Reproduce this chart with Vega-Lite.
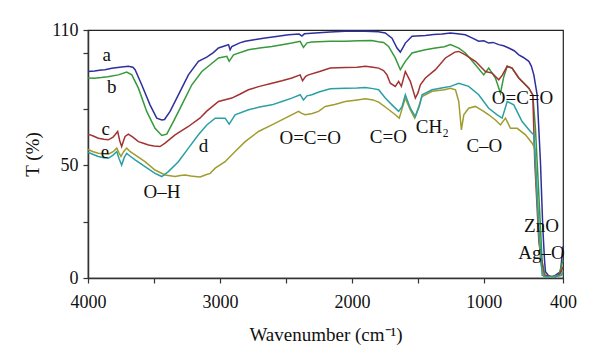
{
  "$schema": "https://vega.github.io/schema/vega-lite/v6.json",
  "width": 475,
  "height": 248,
  "autosize": "none",
  "padding": {"left": 88, "top": 30, "right": 37, "bottom": 84},
  "background": "white",
  "config": {
    "view": {"stroke": "#222", "strokeWidth": 1.2},
    "font": "Liberation Serif",
    "axis": {"grid": false, "domainColor": "#333", "tickColor": "#333", "domainWidth": 1.5, "tickWidth": 1.2, "tickSize": 5,
      "labelFont": "Liberation Serif", "labelFontSize": 18, "labelColor": "#111", "titleFont": "Liberation Serif", "titleFontSize": 19, "titleFontWeight": "normal", "titleColor": "#111"}
  },
  "datasets": {
    "spectra": [
      {"s":"a","w":4000,"t":91.6},{"s":"a","w":3950,"t":91.8},{"s":"a","w":3900,"t":92.3},{"s":"a","w":3871,"t":92.4},{"s":"a","w":3820,"t":93.0},{"s":"a","w":3760,"t":93.5},{"s":"a","w":3694,"t":93.9},{"s":"a","w":3660,"t":93.5},{"s":"a","w":3643,"t":92.4},{"s":"a","w":3593,"t":85.7},{"s":"a","w":3530,"t":76.8},{"s":"a","w":3479,"t":70.9},{"s":"a","w":3440,"t":70.1},{"s":"a","w":3420,"t":70.3},{"s":"a","w":3378,"t":73.9},{"s":"a","w":3315,"t":81.2},{"s":"a","w":3239,"t":90.1},{"s":"a","w":3163,"t":96.1},{"s":"a","w":3100,"t":98.0},{"s":"a","w":3050,"t":100.0},{"s":"a","w":3011,"t":102.0},{"s":"a","w":2960,"t":103.0},{"s":"a","w":2935,"t":103.5},{"s":"a","w":2923,"t":101.2},{"s":"a","w":2910,"t":102.7},{"s":"a","w":2850,"t":104.3},{"s":"a","w":2809,"t":105.0},{"s":"a","w":2730,"t":105.8},{"s":"a","w":2657,"t":106.4},{"s":"a","w":2560,"t":107.2},{"s":"a","w":2480,"t":107.9},{"s":"a","w":2400,"t":108.2},{"s":"a","w":2379,"t":107.3},{"s":"a","w":2360,"t":108.3},{"s":"a","w":2278,"t":108.7},{"s":"a","w":2164,"t":109.1},{"s":"a","w":2050,"t":109.4},{"s":"a","w":1900,"t":109.5},{"s":"a","w":1800,"t":109.2},{"s":"a","w":1747,"t":108.7},{"s":"a","w":1696,"t":106.4},{"s":"a","w":1658,"t":102.0},{"s":"a","w":1633,"t":100.2},{"s":"a","w":1610,"t":102.5},{"s":"a","w":1595,"t":104.2},{"s":"a","w":1544,"t":107.2},{"s":"a","w":1443,"t":107.6},{"s":"a","w":1380,"t":108.0},{"s":"a","w":1317,"t":108.2},{"s":"a","w":1253,"t":108.7},{"s":"a","w":1200,"t":108.3},{"s":"a","w":1140,"t":107.9},{"s":"a","w":1090,"t":106.5},{"s":"a","w":1039,"t":105.0},{"s":"a","w":1000,"t":105.2},{"s":"a","w":963,"t":104.2},{"s":"a","w":930,"t":104.5},{"s":"a","w":887,"t":103.5},{"s":"a","w":850,"t":103.0},{"s":"a","w":811,"t":102.0},{"s":"a","w":770,"t":100.8},{"s":"a","w":735,"t":99.0},{"s":"a","w":700,"t":97.8},{"s":"a","w":659,"t":96.1},{"s":"a","w":640,"t":94.0},{"s":"a","w":621,"t":90.1},{"s":"a","w":596,"t":81.2},{"s":"a","w":571,"t":51.6},{"s":"a","w":553,"t":22.0},{"s":"a","w":540,"t":8.0},{"s":"a","w":533,"t":2.8},{"s":"a","w":510,"t":1.0},{"s":"a","w":482,"t":0.5},{"s":"a","w":450,"t":1.5},{"s":"a","w":419,"t":2.8},{"s":"a","w":400,"t":14.0},

      {"s":"b","w":4000,"t":88.7},{"s":"b","w":3950,"t":88.6},{"s":"b","w":3900,"t":88.9},{"s":"b","w":3850,"t":89.3},{"s":"b","w":3770,"t":90.1},{"s":"b","w":3707,"t":91.3},{"s":"b","w":3668,"t":90.1},{"s":"b","w":3618,"t":84.2},{"s":"b","w":3555,"t":73.9},{"s":"b","w":3492,"t":66.4},{"s":"b","w":3441,"t":63.2},{"s":"b","w":3403,"t":63.8},{"s":"b","w":3353,"t":69.4},{"s":"b","w":3289,"t":76.8},{"s":"b","w":3213,"t":85.7},{"s":"b","w":3137,"t":91.6},{"s":"b","w":3074,"t":94.6},{"s":"b","w":3011,"t":97.6},{"s":"b","w":2948,"t":98.3},{"s":"b","w":2930,"t":96.1},{"s":"b","w":2897,"t":99.0},{"s":"b","w":2784,"t":101.2},{"s":"b","w":2700,"t":102.0},{"s":"b","w":2606,"t":102.7},{"s":"b","w":2530,"t":103.5},{"s":"b","w":2455,"t":104.2},{"s":"b","w":2392,"t":105.0},{"s":"b","w":2367,"t":102.3},{"s":"b","w":2340,"t":104.3},{"s":"b","w":2303,"t":104.7},{"s":"b","w":2164,"t":105.0},{"s":"b","w":2050,"t":105.0},{"s":"b","w":1950,"t":105.2},{"s":"b","w":1850,"t":105.3},{"s":"b","w":1800,"t":104.8},{"s":"b","w":1760,"t":104.5},{"s":"b","w":1722,"t":102.7},{"s":"b","w":1671,"t":97.6},{"s":"b","w":1633,"t":92.4},{"s":"b","w":1595,"t":96.1},{"s":"b","w":1544,"t":99.8},{"s":"b","w":1500,"t":100.5},{"s":"b","w":1443,"t":101.2},{"s":"b","w":1367,"t":102.0},{"s":"b","w":1300,"t":102.6},{"s":"b","w":1253,"t":103.5},{"s":"b","w":1190,"t":102.0},{"s":"b","w":1140,"t":99.8},{"s":"b","w":1064,"t":94.6},{"s":"b","w":1001,"t":90.1},{"s":"b","w":963,"t":93.1},{"s":"b","w":912,"t":88.7},{"s":"b","w":874,"t":82.0},{"s":"b","w":850,"t":89.0},{"s":"b","w":823,"t":93.9},{"s":"b","w":786,"t":93.1},{"s":"b","w":735,"t":88.7},{"s":"b","w":659,"t":84.2},{"s":"b","w":629,"t":81.2},{"s":"b","w":609,"t":66.4},{"s":"b","w":583,"t":36.8},{"s":"b","w":558,"t":7.2},{"s":"b","w":533,"t":0.5},{"s":"b","w":480,"t":0.8},{"s":"b","w":432,"t":1.2},{"s":"b","w":400,"t":8.0},

      {"s":"c","w":4000,"t":63.8},{"s":"c","w":3960,"t":63.0},{"s":"c","w":3922,"t":62.0},{"s":"c","w":3880,"t":61.5},{"s":"c","w":3846,"t":61.3},{"s":"c","w":3810,"t":62.5},{"s":"c","w":3795,"t":63.5},{"s":"c","w":3775,"t":65.0},{"s":"c","w":3760,"t":61.0},{"s":"c","w":3745,"t":58.3},{"s":"c","w":3730,"t":61.0},{"s":"c","w":3719,"t":62.8},{"s":"c","w":3694,"t":63.8},{"s":"c","w":3660,"t":62.5},{"s":"c","w":3618,"t":60.5},{"s":"c","w":3580,"t":59.8},{"s":"c","w":3542,"t":59.0},{"s":"c","w":3500,"t":58.6},{"s":"c","w":3454,"t":58.3},{"s":"c","w":3416,"t":59.8},{"s":"c","w":3340,"t":63.5},{"s":"c","w":3239,"t":67.2},{"s":"c","w":3150,"t":71.0},{"s":"c","w":3100,"t":74.0},{"s":"c","w":3011,"t":78.3},{"s":"c","w":2910,"t":79.8},{"s":"c","w":2850,"t":81.5},{"s":"c","w":2784,"t":83.5},{"s":"c","w":2700,"t":85.0},{"s":"c","w":2606,"t":86.4},{"s":"c","w":2530,"t":87.5},{"s":"c","w":2455,"t":88.7},{"s":"c","w":2392,"t":90.1},{"s":"c","w":2374,"t":87.5},{"s":"c","w":2350,"t":89.5},{"s":"c","w":2329,"t":90.1},{"s":"c","w":2250,"t":91.5},{"s":"c","w":2164,"t":93.1},{"s":"c","w":2050,"t":93.4},{"s":"c","w":1960,"t":93.5},{"s":"c","w":1898,"t":93.9},{"s":"c","w":1840,"t":93.5},{"s":"c","w":1797,"t":93.1},{"s":"c","w":1760,"t":92.0},{"s":"c","w":1734,"t":90.1},{"s":"c","w":1709,"t":86.4},{"s":"c","w":1671,"t":85.0},{"s":"c","w":1646,"t":87.2},{"s":"c","w":1625,"t":85.0},{"s":"c","w":1595,"t":91.6},{"s":"c","w":1557,"t":87.2},{"s":"c","w":1519,"t":79.8},{"s":"c","w":1500,"t":82.0},{"s":"c","w":1481,"t":85.7},{"s":"c","w":1443,"t":88.7},{"s":"c","w":1367,"t":92.4},{"s":"c","w":1291,"t":97.6},{"s":"c","w":1253,"t":99.0},{"s":"c","w":1220,"t":100.2},{"s":"c","w":1190,"t":100.5},{"s":"c","w":1140,"t":99.0},{"s":"c","w":1064,"t":96.1},{"s":"c","w":988,"t":91.6},{"s":"c","w":937,"t":90.9},{"s":"c","w":887,"t":87.9},{"s":"c","w":860,"t":90.0},{"s":"c","w":823,"t":93.9},{"s":"c","w":786,"t":93.1},{"s":"c","w":735,"t":88.7},{"s":"c","w":659,"t":84.2},{"s":"c","w":629,"t":81.2},{"s":"c","w":614,"t":51.6},{"s":"c","w":583,"t":16.0},{"s":"c","w":545,"t":1.2},{"s":"c","w":500,"t":0.8},{"s":"c","w":457,"t":0.5},{"s":"c","w":420,"t":2.0},{"s":"c","w":400,"t":5.0},

      {"s":"d","w":4000,"t":57.0},{"s":"d","w":3960,"t":56.0},{"s":"d","w":3922,"t":55.3},{"s":"d","w":3846,"t":54.9},{"s":"d","w":3810,"t":56.0},{"s":"d","w":3782,"t":57.6},{"s":"d","w":3765,"t":55.5},{"s":"d","w":3750,"t":53.9},{"s":"d","w":3730,"t":56.0},{"s":"d","w":3707,"t":57.6},{"s":"d","w":3680,"t":56.0},{"s":"d","w":3643,"t":54.6},{"s":"d","w":3568,"t":51.6},{"s":"d","w":3492,"t":47.9},{"s":"d","w":3416,"t":45.7},{"s":"d","w":3340,"t":45.0},{"s":"d","w":3300,"t":45.5},{"s":"d","w":3264,"t":45.7},{"s":"d","w":3220,"t":45.2},{"s":"d","w":3188,"t":45.0},{"s":"d","w":3150,"t":44.8},{"s":"d","w":3112,"t":45.7},{"s":"d","w":3074,"t":46.4},{"s":"d","w":3036,"t":48.7},{"s":"d","w":2961,"t":51.6},{"s":"d","w":2885,"t":56.1},{"s":"d","w":2809,"t":60.5},{"s":"d","w":2708,"t":65.0},{"s":"d","w":2606,"t":67.9},{"s":"d","w":2505,"t":70.9},{"s":"d","w":2404,"t":73.9},{"s":"d","w":2380,"t":73.0},{"s":"d","w":2354,"t":72.4},{"s":"d","w":2300,"t":73.0},{"s":"d","w":2253,"t":73.9},{"s":"d","w":2202,"t":76.1},{"s":"d","w":2130,"t":77.0},{"s":"d","w":2050,"t":78.3},{"s":"d","w":1960,"t":79.0},{"s":"d","w":1898,"t":79.5},{"s":"d","w":1840,"t":79.0},{"s":"d","w":1797,"t":78.0},{"s":"d","w":1734,"t":75.3},{"s":"d","w":1671,"t":72.4},{"s":"d","w":1641,"t":70.9},{"s":"d","w":1620,"t":75.0},{"s":"d","w":1595,"t":79.8},{"s":"d","w":1557,"t":74.6},{"s":"d","w":1524,"t":70.9},{"s":"d","w":1500,"t":75.0},{"s":"d","w":1468,"t":80.5},{"s":"d","w":1392,"t":82.8},{"s":"d","w":1300,"t":83.5},{"s":"d","w":1253,"t":84.2},{"s":"d","w":1215,"t":83.5},{"s":"d","w":1190,"t":78.3},{"s":"d","w":1170,"t":65.7},{"s":"d","w":1152,"t":72.4},{"s":"d","w":1115,"t":75.3},{"s":"d","w":1064,"t":76.1},{"s":"d","w":1001,"t":73.9},{"s":"d","w":963,"t":72.4},{"s":"d","w":912,"t":70.1},{"s":"d","w":874,"t":67.9},{"s":"d","w":836,"t":70.9},{"s":"d","w":798,"t":66.4},{"s":"d","w":747,"t":66.4},{"s":"d","w":684,"t":63.5},{"s":"d","w":634,"t":59.8},{"s":"d","w":614,"t":57.6},{"s":"d","w":596,"t":36.8},{"s":"d","w":571,"t":7.2},{"s":"d","w":546,"t":0.5},{"s":"d","w":480,"t":0.3},{"s":"d","w":413,"t":1.2},{"s":"d","w":400,"t":2.0},

      {"s":"e","w":4000,"t":55.8},{"s":"e","w":3960,"t":54.8},{"s":"e","w":3922,"t":53.9},{"s":"e","w":3880,"t":53.3},{"s":"e","w":3846,"t":53.1},{"s":"e","w":3810,"t":54.5},{"s":"e","w":3782,"t":56.1},{"s":"e","w":3765,"t":53.0},{"s":"e","w":3745,"t":50.1},{"s":"e","w":3725,"t":53.5},{"s":"e","w":3707,"t":55.3},{"s":"e","w":3680,"t":54.0},{"s":"e","w":3643,"t":52.4},{"s":"e","w":3568,"t":49.4},{"s":"e","w":3492,"t":46.4},{"s":"e","w":3441,"t":45.0},{"s":"e","w":3391,"t":47.2},{"s":"e","w":3315,"t":51.6},{"s":"e","w":3239,"t":57.6},{"s":"e","w":3163,"t":63.5},{"s":"e","w":3100,"t":67.9},{"s":"e","w":3036,"t":70.9},{"s":"e","w":2961,"t":70.9},{"s":"e","w":2930,"t":68.2},{"s":"e","w":2885,"t":72.4},{"s":"e","w":2784,"t":74.6},{"s":"e","w":2700,"t":75.8},{"s":"e","w":2606,"t":76.8},{"s":"e","w":2530,"t":78.3},{"s":"e","w":2455,"t":79.8},{"s":"e","w":2392,"t":81.3},{"s":"e","w":2367,"t":79.0},{"s":"e","w":2340,"t":80.8},{"s":"e","w":2303,"t":81.3},{"s":"e","w":2250,"t":82.5},{"s":"e","w":2164,"t":83.9},{"s":"e","w":2050,"t":84.2},{"s":"e","w":1960,"t":84.3},{"s":"e","w":1898,"t":84.5},{"s":"e","w":1840,"t":84.0},{"s":"e","w":1797,"t":83.5},{"s":"e","w":1747,"t":79.8},{"s":"e","w":1696,"t":76.8},{"s":"e","w":1646,"t":73.9},{"s":"e","w":1620,"t":76.0},{"s":"e","w":1595,"t":81.3},{"s":"e","w":1557,"t":75.3},{"s":"e","w":1519,"t":71.6},{"s":"e","w":1490,"t":76.0},{"s":"e","w":1468,"t":81.3},{"s":"e","w":1392,"t":83.5},{"s":"e","w":1300,"t":84.5},{"s":"e","w":1253,"t":85.0},{"s":"e","w":1190,"t":86.4},{"s":"e","w":1115,"t":85.0},{"s":"e","w":1039,"t":81.3},{"s":"e","w":963,"t":75.3},{"s":"e","w":899,"t":72.4},{"s":"e","w":861,"t":70.9},{"s":"e","w":823,"t":78.3},{"s":"e","w":773,"t":76.8},{"s":"e","w":710,"t":69.4},{"s":"e","w":647,"t":65.0},{"s":"e","w":621,"t":63.5},{"s":"e","w":609,"t":51.6},{"s":"e","w":583,"t":22.0},{"s":"e","w":558,"t":1.2},{"s":"e","w":520,"t":0.5},{"s":"e","w":470,"t":0.5},{"s":"e","w":413,"t":1.2},{"s":"e","w":400,"t":3.0}
    ],
    "notes": [
      {"label":"a","w":3858,"t":99.0},
      {"label":"b","w":3820,"t":84.5},
      {"label":"c","w":3866,"t":66.0},
      {"label":"e","w":3871,"t":56.0},
      {"label":"d","w":3125,"t":58.5},
      {"label":"O–H","w":3439,"t":38.0},
      {"label":"O=C=O","w":2316,"t":62.0},
      {"label":"C=O","w":1724,"t":62.4},
      {"label":"CH₂","w":1390,"t":67.0},
      {"label":"C–O","w":996,"t":58.4},
      {"label":"O=C=O","w":707,"t":80.0},
      {"label":"ZnO","w":563,"t":23.0},
      {"label":"Ag–O","w":563,"t":11.0}
    ]
  },
  "encoding": {
    "x": {"field": "w", "type": "quantitative",
      "scale": {"domain": [400, 4000], "reverse": true, "nice": false, "zero": false},
      "axis": {"title": "Wavenumber (cm⁻¹)", "values": [4000, 3500, 3000, 2500, 2000, 1500, 1000, 400],
        "labelExpr": "datum.value == 3500 || datum.value == 2500 || datum.value == 1500 ? '' : datum.label",
        "format": "d", "labelPadding": 10, "titlePadding": 14, "labelFlush": false}},
    "y": {"field": "t", "type": "quantitative",
      "scale": {"domain": [0, 110], "nice": false},
      "axis": {"title": "T (%)", "values": [0, 25, 50, 75, 100, 110],
        "labelExpr": "datum.value == 0 || datum.value == 50 || datum.value == 110 ? datum.label : ''",
        "labelPadding": 5, "titlePadding": 9, "labelFlush": false}}
  },
  "layer": [
    {
      "data": {"name": "spectra"},
      "mark": {"type": "line", "strokeWidth": 1.5, "interpolate": "linear"},
      "encoding": {
        "color": {"field": "s", "type": "nominal", "legend": null,
          "scale": {"domain": ["a", "b", "c", "d", "e"], "range": ["#2e2f9c", "#36993a", "#a33232", "#a09c2e", "#2b9fa6"]}},
        "order": {"field": "w", "type": "quantitative", "sort": "descending"}
      }
    },
    {
      "data": {"values": [{"edge": 400}]},
      "mark": {"type": "rule", "color": "#2b9fa6", "strokeWidth": 1.5},
      "encoding": {"x": {"field": "edge", "type": "quantitative"}, "y": {"datum": 0}, "y2": {"datum": 110}}
    },
    {
      "data": {"name": "notes"},
      "mark": {"type": "text", "font": "Liberation Serif", "fontSize": 19, "color": "#111", "align": "center", "baseline": "middle"},
      "encoding": {"text": {"field": "label"}}
    }
  ]
}
